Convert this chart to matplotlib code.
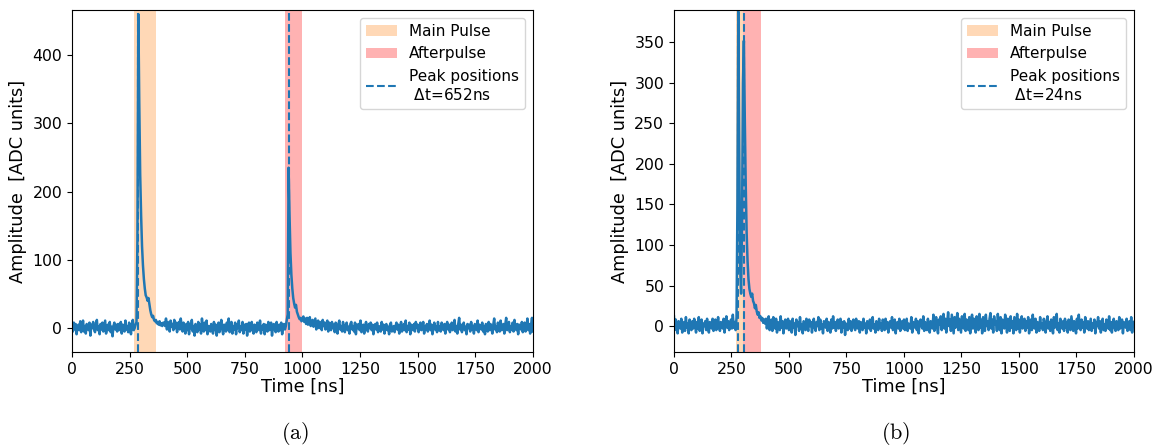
import numpy as np
import matplotlib
matplotlib.use('Agg')
import matplotlib.pyplot as plt

# sampling grid of the digitizer traces [ns]
time_ns = np.arange(0, 2001, 4)

# waveform (a): main pulse at 288 ns, afterpulse at 940 ns  [ADC units]
trace_a = [
    3, -5, 8, -2, 6, -9, 2, 5, -3, 10, -6, 0, 11, -5, 3, -8, 6, 2, -3, 8, -11, 5, 0, 9, -2,
    -6, 5, 12, -3, 2, -9, 6, -2, 8, -5, 3, 11, -8, 0, 5, -3, 9, -6, 2, -12, 3, 8, -2, 5, -5,
    6, -3, 2, 9, -8, 5, 0, -5, 11, -2, 3, -6, 8, 2, -9, 5, 12, -3, 0, 5, 9, 130, 460, 330, 225,
    165, 120, 92, 72, 58, 48, 45, 40, 44, 35, 26, 20, 16, 18, 12, 10, 12, 7, 9, 5, 10, 4, 7, 3, 8,
    8, 3, 14, -2, 9, 5, -5, 11, 2, 6, -3, 12, 0, 8, -6, 5, 9, -2, 14, 3, -5, 8, 2, -8, 6,
    -3, 9, -9, 5, 0, 12, -5, 3, -11, 6, 2, -6, 9, -2, 5, -8, 14, 0, -5, 8, -3, 11, -9, 3, 2,
    -5, 6, 0, -8, 9, -3, 5, -11, 2, 8, -6, 3, 12, -2, -9, 5, 0, -5, 8, -3, 14, -6, 2, 9, -8,
    3, -2, 8, -9, 5, 0, 11, -6, 2, -3, 9, -8, 5, -2, 6, -11, 3, 8, -5, 0, 9, -3, -8, 5, 2,
    -6, 8, 0, -3, 11, -8, 3, -2, 6, -9, 5, 2, -5, 9, -3, 0, 8, -11, 3, 6, -2, -6, 9, 0, -5,
    5, -3, 8, -9, 2, 6, -2, 3, 12, 20, 235, 165, 110, 78, 58, 44, 36, 30, 34, 24, 20, 16, 13, 15, 10,
    12, 17, 9, 14, 6, 15, 5, 11, 16, 3, 9, 12, 2, 8, 14, -2, 6, 11, 0, 9, 5, -3, 12, 3, 8,
    -2, 6, 11, -5, 8, 2, -3, 9, 0, 5, -6, 8, 3, -8, 6, 11, -2, 3, -5, 9, 0, -6, 5, 8, -3,
    2, -8, 6, 9, -2, 3, -5, 8, -9, 5, 0, 6, -3, 11, -6, 2, 5, -8, 3, 9, -2, -5, 6, 0, 8,
    -3, 5, -9, 2, 6, -2, 8, -6, 3, 0, -5, 9, -2, 5, -8, 3, 6, -3, 2, -9, 5, 8, -5, 0, 3,
    -6, 3, 8, -2, 5, -8, 2, 9, -5, 0, 6, -3, 11, -6, 3, -2, 8, -9, 5, 2, -3, 6, -5, 9, 0,
    5, -6, 2, 8, -3, 0, 9, -8, 3, -2, 6, -5, 2, 11, -3, 5, -9, 0, 8, -2, 3, -6, 9, -3, 2,
    -5, 8, 0, -3, 6, -8, 3, 9, -2, 5, -6, 2, 8, -3, 0, 12, -5, 3, -8, 6, 15, -2, 5, -6, 3,
    8, -3, 2, -9, 6, 0, 5, -5, 9, -2, 3, -8, 6, 2, -3, 11, -6, 5, 0, -2, 8, -5, 3, -9, 6,
    2, -5, 9, -3, 6, 0, -8, 5, 14, -2, 3, -6, 8, 2, -5, 11, -3, 0, 6, -8, 5, 15, -3, 2, 9,
    -6, 3, -2, 8, -5, 12, 0, -3, 6, -9, 5, 2, -2, 9, -6, 3, 8, -5, 0, 14, -3, 6, -8, 5, 15,
    -5,
]

# waveform (b): main pulse at 280 ns, afterpulse at 304 ns  [ADC units]
trace_b = [
    12, -5, 8, 0, -9, 6, 3, -3, 9, -8, 2, 5, -6, 11, -2, 3, -9, 8, 0, -5, 6, -3, 9, 2, -8,
    5, -3, 11, -6, 2, 8, -9, 3, 0, 6, -5, 9, -2, -8, 5, 2, -3, 9, -6, 3, 8, -5, 0, 11, -2,
    -6, 5, 2, -3, 9, -8, 3, 12, -2, 6, -5, 0, 8, -3, 14, -2, 5, -5, 10, 150, 388, 210, 70, 40, 130,
    300, 352, 255, 175, 115, 80, 58, 46, 40, 36, 40, 31, 28, 22, 26, 18, 14, 17, 10, 12, 7, 10, 4, 8, 3,
    9, -3, 6, 12, -5, 2, 8, -6, 11, 0, -3, 9, -8, 5, 3, -5, 12, -2, 6, -9, 3, 8, -3, 0, 9,
    -5, 6, 2, -8, 9, -2, 3, -11, 8, 0, 5, -6, 11, -3, 2, -9, 6, 3, -5, 9, -2, -6, 8, 0, 5,
    -8, 3, 9, -2, -6, 5, 0, 11, -5, 8, -3, 2, -9, 6, 3, -2, 9, -6, 5, 0, -8, 8, -3, 12, -2,
    5, -6, 3, 8, -3, 0, 9, -8, 5, -2, 6, -11, 3, 2, -5, 9, -3, 6, -6, 2, 8, -2, -5, 9, 0,
    -3, 6, -8, 5, 2, -5, 9, -2, 3, -9, 6, 0, -3, 8, -6, 5, 11, -3, 2, -8, 6, 3, -5, 9, -2,
    3, -6, 8, 0, -5, 9, -3, 5, -8, 2, 6, -2, 11, -5, 0, 8, -9, 3, 5, -3, 9, -6, 2, 6, -3,
    8, -5, 2, 9, -6, 3, 0, -3, 11, -8, 5, 2, -2, 9, -5, 6, -9, 3, 8, 0, -3, 12, -6, 5, 2,
    -5, 9, 0, -8, 6, 3, -3, 14, -6, 5, 11, -2, -9, 8, 2, 12, -5, 6, 15, -3, 9, -8, 5, 17, 0,
    8, -6, 14, 3, -9, 11, -2, 6, 16, -5, 9, 0, -8, 12, 5, -3, 15, -6, 8, 2, -5, 11, -9, 6, 14,
    -3, 9, 2, -8, 12, 5, -5, 15, -2, 8, -9, 11, 3, -6, 14, 0, 6, -5, 9, 16, -3, 8, -8, 12, 2,
    6, -6, 15, 3, -5, 11, -9, 8, 2, -3, 14, 5, -8, 9, 0, -6, 12, -2, 6, -9, 11, 3, -5, 15, -3,
    8, -8, 5, 12, -3, 2, 9, -6, 6, -2, 11, -9, 3, 8, -5, 14, 0, -3, 9, -8, 5, 2, -6, 11, -2,
    3, -5, 9, 0, -8, 6, 12, -3, 5, -6, 8, 2, -9, 11, -2, 5, 15, -5, 3, -8, 9, 0, -3, 6, -6,
    9, -2, 5, -8, 8, 0, -5, 12, 3, -6, 6, 2, -9, 9, -3, 14, 0, -5, 8, -2, 5, -8, 11, 2, -3,
    6, -5, 2, 9, -6, 3, -2, 8, -9, 5, 0, 11, -3, 6, -8, 3, 9, -5, 2, -6, 8, 0, -3, 12, -5,
    5, -8, 3, 9, -2, -6, 6, 2, -5, 11, -3, 0, 8, -9, 5, 3, -2, 9, -6, 2, 6, -5, 11, -8, 3,
    5,
]

# integration windows [ns] and found peak times [ns]
main_win_a = (269, 363)
after_win_a = (924, 1000)
peaks_a = [288, 940]

main_win_b = (268, 300)
after_win_b = (300, 378)
peaks_b = [280, 304]

ylims = [(-35, 466), (-32, 390)]
captions = [r'$\mathrm{(a)}$', r'$\mathrm{(b)}$']

fig = plt.figure(figsize=(11.57, 4.46), dpi=100)
ax_a = fig.add_axes([0.0622, 0.2108, 0.3984, 0.7668])
ax_b = fig.add_axes([0.5825, 0.2108, 0.3976, 0.7668])

panels = [
    (ax_a, trace_a, main_win_a, after_win_a, peaks_a),
    (ax_b, trace_b, main_win_b, after_win_b, peaks_b),
]

for i, (ax, trace, main_win, after_win, peaks) in enumerate(panels):
    ax.plot(time_ns, trace, color='tab:blue', lw=1.8)
    ax.axvspan(*main_win, color='tab:orange', alpha=0.3, lw=0, label='Main Pulse')
    ax.axvspan(*after_win, color='red', alpha=0.3, lw=0, label='Afterpulse')
    dt = peaks[1] - peaks[0]
    ax.axvline(peaks[0], color='tab:blue', ls='--', lw=1.5,
               label='Peak positions\n $\\Delta$t=%dns' % dt)
    ax.axvline(peaks[1], color='tab:blue', ls='--', lw=1.5)

    ax.set_xlim(0, 2000)
    ax.set_ylim(*ylims[i])
    ax.set_xlabel('Time [ns]', fontsize=12.8, labelpad=1)
    ax.set_ylabel('Amplitude  [ADC units]', fontsize=12.8, labelpad=4)
    ax.tick_params(labelsize=11.3)
    ax.legend(loc='upper right', fontsize=11, handlelength=2.0)

fig.text(0.255, 0.015, captions[0], ha='center', fontsize=16, math_fontfamily='cm')
fig.text(0.774, 0.015, captions[1], ha='center', fontsize=16, math_fontfamily='cm')

fig.savefig('out.png', dpi=100)
